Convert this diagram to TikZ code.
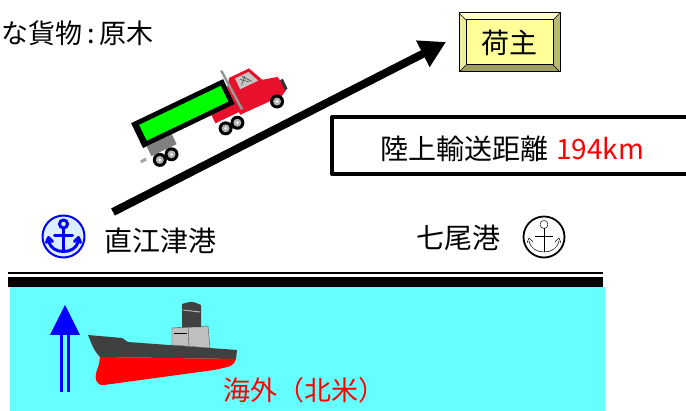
\documentclass[tikz,border=0pt]{standalone}
\usepackage{fontspec}
\setmainfont{Noto Sans CJK JP}
\usetikzlibrary{arrows.meta}

\definecolor{sea}{HTML}{66FFFF}
\definecolor{hullgray}{HTML}{404040}
\definecolor{deckgray}{HTML}{C0C0C0}
\definecolor{truckred}{HTML}{E8102A}
\definecolor{trailergreen}{HTML}{00FF00}
\definecolor{boxyellow}{HTML}{FFFF99}
\definecolor{bevellight}{HTML}{FFFFCC}
\definecolor{bevelside}{HTML}{EEEEA0}
\definecolor{beveldark}{HTML}{B8B870}
\definecolor{beveldarker}{HTML}{A0A060}
\definecolor{anchorblue}{HTML}{0000FF}
\definecolor{anchorfill}{HTML}{DDEEFF}

\tikzset{
  label28/.style={inner sep=0pt, font=\fontsize{28}{31}\selectfont},
  label26/.style={inner sep=0pt, font=\fontsize{27}{30}\selectfont},
  road/.style={line width=8pt, -{Triangle[length=26pt,width=28pt]}},
  wheelpic/.pic={
    \fill[black] (0,0) circle (7);
    \fill[gray!60] (0,0) circle (4);
    \fill[white] (0,0) circle (1.5);
  },
  % anchor emblem, drawn in the current line style
  anchorshape/.pic={
    \draw (0,-12.5) circle (4);
    \draw (0,-8.5) -- (0,15);
    \draw (-9,-1) -- (9,-1);
    \draw (-15,4) .. controls (-13,12) and (-7,15) .. (0,15)
          .. controls (7,15) and (13,12) .. (15,4);
    \draw (-17,6) -- (-15,1) -- (-11,5);
    \draw (17,6) -- (15,1) -- (11,5);
  }
}

\begin{document}
\begin{tikzpicture}[x=1pt,y=-1pt,line join=round]
\useasboundingbox (0,0) rectangle (686,411);
\clip (0,0) rectangle (686,411);

% sea and quay
\fill[sea] (10,287) rectangle (605,411);
\fill[black] (8,277) rectangle (603,287);
\fill[black] (8,272) rectangle (603,274.5);

% cargo caption
\node[label26, anchor=west] (cargo) at (1,33) {な貨物\kern5pt:\kern5pt 原木};

% ports
\node[circle, draw=anchorblue, line width=2pt, fill=anchorfill,
      minimum size=42pt, inner sep=0pt] (naoetsuicon) at (63.5,236.5) {};
\pic[anchorblue, line width=3pt, line cap=round] at (naoetsuicon.center) {anchorshape};
\node[label28, anchor=west] (naoetsu) at (104,241) {直江津港};

\node[label28, anchor=west] (nanao) at (416,238) {七尾港};
\node[circle, draw=black, line width=1.8pt, fill=white,
      minimum size=41pt, inner sep=0pt] (nanaoicon) at (544,237) {};
\pic[black, line width=0.5pt, double=white, double distance=1.2pt] at (nanaoicon.center) {anchorshape};

% shipper box with bevel
\fill[bevellight] (459,13) -- (560,13) -- (553,20) -- (466,20) -- cycle;
\fill[bevelside] (459,13) -- (466,20) -- (466,65) -- (459,72) -- cycle;
\fill[beveldark] (560,13) -- (560,72) -- (553,65) -- (553,20) -- cycle;
\fill[beveldarker] (459,72) -- (560,72) -- (553,65) -- (466,65) -- cycle;
\draw[line width=1pt] (459,13) rectangle (560,72);
\draw[line width=1pt, fill=boxyellow] (466,20) rectangle (553,65);
\draw[line width=0.4pt] (459,13) -- (466,20) (560,13) -- (553,20)
      (459,72) -- (466,65) (560,72) -- (553,65);
\node[label28] (shipper) at (509.5,43) {荷主};

% road transport arrow
\coordinate (roadstart) at (113,212);
\coordinate (roadend) at (446,42);
\draw[road] (roadstart) -- (roadend);

% distance panel
\draw[line width=4pt] (332,117) rectangle (700,174);
\node[label28, anchor=west] (distance) at (380,149)
  {陸上輸送距離\hspace{8pt}\textcolor{red}{194km}};

% truck
\begin{scope}[shift={(143,148)}, rotate=25.6]
  \fill[gray] (4,0) rectangle (32,11);
  \fill[gray!70] (-8,10) rectangle (-2,13);
  \fill[truckred] (76,0) rectangle (104,9);
  \fill[black] (0,0) rectangle (102,-27.5);
  \fill[trailergreen] (6.5,-5) rectangle (97,-22.5);
  \fill[truckred] (102,12) -- (102,-18) -- (108,-26) -- (130,-26)
        -- (137,-10) -- (152,-6) -- (155,9) -- (148,13) -- cycle;
  \fill[gray!45] (113,-23) -- (128,-23) -- (133,-11) -- (113,-11) -- cycle;
  \draw[gray!60!black, line width=0.6pt] (117,-20) -- (124,-14) (120,-22) -- (127,-13)
        (116,-14) -- (123,-21);
  \fill[black!80] (153,-2) rectangle (156,9);
  \draw[gray!80, line width=2.5pt] (104,-36) -- (106,8);
  \pic at (10,18) {wheelpic};
  \pic at (23,18) {wheelpic};
  \pic at (83,18) {wheelpic};
  \pic at (96,18) {wheelpic};
  \pic at (141,16) {wheelpic};
\end{scope}

% ship
\fill[hullgray] (88,335) -- (122,338) -- (128,342) -- (237,350) -- (236,359)
      -- (100,357) .. controls (94,350) .. (88,335) -- cycle;
\fill[red] (100,357) -- (236,359) .. controls (233,366) .. (214,370)
      -- (104,385) .. controls (96,386) and (94,378) .. (97,370)
      .. controls (99,365) .. (100,357) -- cycle;
\filldraw[fill=deckgray, draw=gray!60!black, line width=0.4pt]
      (172,328) -- (208,326) -- (210,348) -- (172,345) -- cycle;
\draw[gray!60!black, line width=0.4pt] (188,327) -- (189,346);
\draw[black, line width=1pt] (174,334) -- (187,334);
\fill[hullgray] (182,304) .. controls (192,301) .. (201,305) -- (201,327) -- (182,327.5) -- cycle;
\draw[gray!60, line width=1pt] (183,310) -- (200,312);

% overseas direction
\fill[anchorblue] (50,335) -- (65,305) -- (80,335) -- cycle;
\draw[anchorblue, line width=3pt] (61,335) -- (61,392) (68.5,335) -- (68.5,392);
\node[label26, anchor=west, text=red] (overseas) at (223,390) {海外（北米）};
\end{tikzpicture}
\end{document}
